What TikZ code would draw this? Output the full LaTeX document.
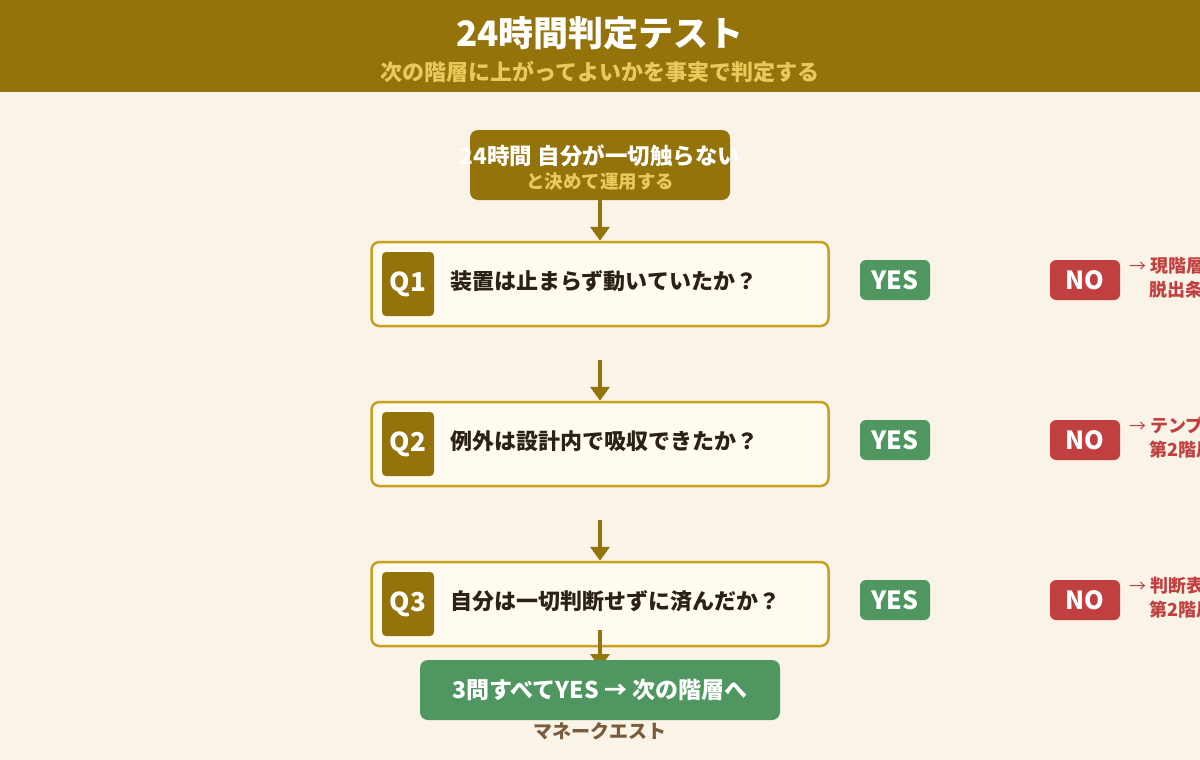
\documentclass[tikz,border=0pt]{standalone}
\usepackage{fontspec}
\setmainfont{Noto Sans CJK JP}
\usetikzlibrary{positioning,arrows.meta}
\definecolor{bgcream}{HTML}{FAF3E8}
\definecolor{gold}{HTML}{94730A}
\definecolor{goldline}{HTML}{C9A020}
\definecolor{paleyellow}{HTML}{EAC85C}
\definecolor{qfill}{HTML}{FFFBF0}
\definecolor{okgreen}{HTML}{4F9660}
\definecolor{ngred}{HTML}{C04040}
\definecolor{inkdark}{HTML}{2B2118}
\definecolor{footbrown}{HTML}{7A5C3A}
\newcommand{\fsz}[1]{\fontsize{#1}{#1}\selectfont}
\tikzset{
  qbox/.style={draw=goldline, line width=2.5pt, fill=qfill, rounded corners=8pt, minimum width=457pt, minimum height=84pt},
  qtag/.style={fill=gold, rounded corners=4pt, minimum width=52pt, minimum height=64pt, text=white, font=\bfseries\fsz{26}},
  qtext/.style={anchor=west, text=inkdark, font=\bfseries\fsz{22}, inner sep=0pt},
  pill/.style={rounded corners=6pt, minimum width=70pt, minimum height=40pt, text=white, font=\bfseries\fsz{25}, inner sep=0pt},
  notext/.style={anchor=west, text=ngred, font=\bfseries\fsz{18}, inner sep=0pt},
  flow/.style={draw=gold, line width=3.5pt, -{Triangle[length=14pt,width=19pt]}}
}
\begin{document}
\begin{tikzpicture}[x=1pt,y=-1pt]
\useasboundingbox (0,0) rectangle (1200,760);
\clip (0,0) rectangle (1200,760);
\fill[bgcream] (0,0) rectangle (1200,760);
\fill[gold] (0,0) rectangle (1200,92);
\node[text=white, font=\bfseries\fsz{35}] (title) at (600,33) {24時間判定テスト};
\node[text=paleyellow, font=\bfseries\fsz{22}] (subtitle) at (600,72) {次の階層に上がってよいかを事実で判定する};

\node[fill=gold, rounded corners=8pt, minimum width=260pt, minimum height=70pt] (start) at (600,165) {};
\node[text=white, font=\bfseries\fsz{22.5}] (startA) at (600,156) {24時間 自分が一切触らない};
\node[text=paleyellow, font=\bfseries\fsz{18.5}] (startB) at (600,182) {と決めて運用する};

\foreach \i/\y/\q/\na/\nb in {
  1/284/装置は止まらず動いていたか？/現階層に留まる/脱出条件を見直す,
  2/444/例外は設計内で吸収できたか？/テンプレを修正/第2階層に戻る,
  3/604/自分は一切判断せずに済んだか？/判断表を作り直す/第2階層に戻る}{
  \node[qbox] (q\i) at (600,\y) {};
  \node[qtag] (tag\i) at (408,\y) {Q\i};
  \node[qtext] (qt\i) at (450,\y-3) {\q};
  \node[pill, fill=okgreen] (yes\i) at (895,\y-4) {YES};
  \node[pill, fill=ngred] (no\i) at (1085,\y-4) {NO};
  \node[notext] (na\i) at (1129,\y-18) {\fsz{17}\mdseries→ \bfseries\fsz{18}\na};
  \node[notext] (nb\i) at (1149,\y+6) {\nb};
}

\coordinate (gap1) at (600,360);
\coordinate (gap2) at (600,520);
\coordinate (gap3) at (600,630);
\coordinate (end3) at (600,668);
\draw[flow] (start) -- (q1);
\draw[flow] (gap1) -- (q2.north);
\draw[flow] (gap2) -- (q3.north);
\draw[flow] (gap3) -- (end3);

\node[fill=okgreen, rounded corners=8pt, minimum width=360pt, minimum height=60pt, text=white, font=\bfseries\fsz{23}] (pass) at (600,690) {3問すべてYES → 次の階層へ};
\node[text=footbrown, font=\bfseries\fsz{19}] (brand) at (600,731) {マネークエスト};
\end{tikzpicture}
\end{document}
